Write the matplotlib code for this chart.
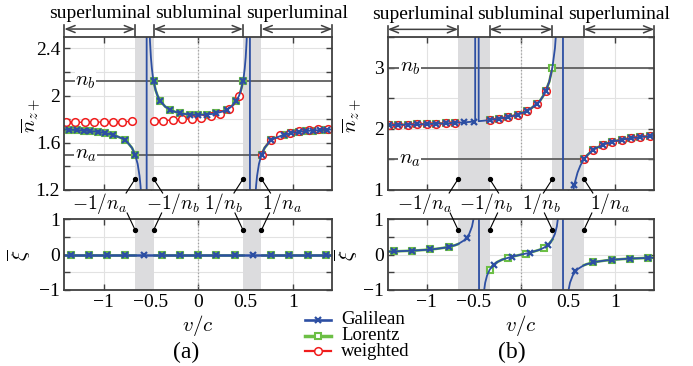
import numpy as np
import matplotlib
matplotlib.use("Agg")
import matplotlib.pyplot as plt
from matplotlib.lines import Line2D
from matplotlib.transforms import blended_transform_factory

# layer indices
na_a, nb_a = 1.5, 2.1213
na_b, nb_b = 1.5, 3.0

# ---- panel (a), top: Galilean curve (Lorentz = same outside shaded bands)
ga_v = [-1.414, -1.3, -1.2, -1.1, -1.0, -0.9, -0.8, -0.75, -0.7, -0.667,
        -0.64, -0.62, -0.61, -0.6, -0.59, -0.58, -0.5774, -0.545, -0.544, -0.54,
        -0.53, -0.52, -0.51, -0.5, -0.49, -0.48, -0.4714, -0.47, -0.45, -0.43,
        -0.4, -0.35, -0.3, -0.25, -0.2, -0.15, -0.1, -0.05, 0.0,
        0.05, 0.1, 0.15, 0.2, 0.25, 0.3, 0.35, 0.4, 0.43, 0.45,
        0.47, 0.4714, 0.48, 0.49, 0.5, 0.51, 0.52, 0.53, 0.54, 0.544,
        0.545, 0.5774, 0.58, 0.59, 0.6, 0.61, 0.62, 0.64, 0.667, 0.7,
        0.75, 0.8, 0.9, 1.0, 1.1, 1.2, 1.3, 1.414]
ga_n = [1.7131, 1.7089, 1.7038, 1.6966, 1.6859, 1.6685, 1.6361, 1.6070, 1.5577, 1.5000,
        1.4210, 1.3187, 1.2386, 1.1206, 0.9247, 0.4790, 0.0, 0.0, 17.65, 5.163,
        3.1964, 2.7001, 2.4637, 2.3238, 2.2310, 2.1648, 2.1213, 2.1151, 2.0456, 1.9994,
        1.9533, 1.9077, 1.8811, 1.8642, 1.8530, 1.8455, 1.8407, 1.8380, 1.8371,
        1.8380, 1.8407, 1.8455, 1.8530, 1.8642, 1.8811, 1.9077, 1.9533, 1.9994, 2.0456,
        2.1151, 2.1213, 2.1648, 2.2310, 2.3238, 2.4637, 2.7001, 3.1964, 5.163, 17.65,
        0.0, 0.0, 0.4790, 0.9247, 1.1206, 1.2386, 1.3187, 1.4210, 1.5000, 1.5577,
        1.6070, 1.6361, 1.6685, 1.6859, 1.6966, 1.7038, 1.7089, 1.7131]
gam_v = [-1.36, -1.28, -1.21, -1.14, -1.06, -0.98, -0.90, -0.77, -0.667,
         -0.4714, -0.40, -0.30, -0.19, -0.09, 0.0, 0.09, 0.19, 0.30, 0.40, 0.4714,
         0.667, 0.77, 0.90, 0.98, 1.06, 1.14, 1.21, 1.28, 1.36]
gam_n = [1.711, 1.708, 1.704, 1.700, 1.693, 1.683, 1.669, 1.620, 1.500,
         2.121, 1.953, 1.881, 1.851, 1.840, 1.837, 1.840, 1.851, 1.881, 1.953, 2.121,
         1.500, 1.620, 1.669, 1.683, 1.693, 1.700, 1.704, 1.708, 1.711]
# weighted (a)
wa_v = [-1.414, -1.0, -0.667, np.nan,
        -0.4714, -0.371, -0.271, -0.171, -0.071, 0.029, 0.129, 0.229, 0.329, 0.38, 0.429, 0.45, 0.4714, np.nan,
        0.667, 0.7, 0.72, 0.767, 0.867, 0.967, 1.067, 1.167, 1.267, 1.367, 1.414]
wa_n = [1.7724, 1.7763, 1.7815, np.nan,
        1.7861, 1.7892, 1.7931, 1.7980, 1.8045, 1.8136, 1.8268, 1.8482, 1.8890, 1.9282, 1.9953, 2.0451, 2.1212, np.nan,
        1.5002, 1.5582, 1.5821, 1.6202, 1.6638, 1.6864, 1.7002, 1.7095, 1.7162, 1.7212, 1.7233]
wam_v = [-1.4, -1.3, -1.2, -1.1, -1.0, -0.9, -0.8, -0.7,
         -0.471, -0.371, -0.271, -0.171, -0.071, 0.029, 0.129, 0.229, 0.329, 0.429,
         0.667, 0.767, 0.867, 0.967, 1.067, 1.167, 1.267, 1.367]
wam_n = [1.7725, 1.7733, 1.7742, 1.7752, 1.7763, 1.7776, 1.7792, 1.7809,
         1.7861, 1.7892, 1.7931, 1.7980, 1.8045, 1.8136, 1.8268, 1.8482, 1.8890, 1.9953,
         1.5002, 1.6202, 1.6638, 1.6864, 1.7002, 1.7095, 1.7162, 1.7212]
# panel (a), bottom: xi is zero everywhere
xa_v = [-1.414, 1.414]
xa_xi = [0.0, 0.0]
xam_v = [-1.346, -1.154, -0.962, -0.769, -0.577, -0.385, -0.192, 0.0,
         0.192, 0.385, 0.577, 0.769, 0.962, 1.154, 1.346]
xam_xi = [0.0] * 15

# ---- panel (b), top
gb_v = [-1.414, -1.3, -1.2, -1.1, -1.0, -0.9, -0.8, -0.7, -0.667, -0.6,
        -0.5, -0.486, -0.485, -0.45, -0.449, -0.4, -0.333, -0.3, -0.2, -0.1,
        0.0, 0.1, 0.2, 0.25, 0.3, 0.333, 0.36, 0.38, 0.4, 0.42,
        0.44, 0.45, 0.5, 0.52, 0.53, 0.55, 0.56, 0.57, 0.6, 0.63,
        0.667, 0.7, 0.75, 0.8, 0.9, 1.0, 1.1, 1.2, 1.3, 1.414]
gb_n = [2.0598, 2.0637, 2.0676, 2.0719, 2.0769, 2.0826, 2.0893, 2.0971, 2.1000, 2.1064,
        2.1176, 2.1194, 40.0, 40.0, 2.1244, 2.1316, 2.1429, 2.1493, 2.1724, 2.2041,
        2.2500, 2.3226, 2.4545, 2.5714, 2.7692, 3.0000, 3.3158, 3.7241, 4.5000, 6.5450,
        27.0, -18.0, 0.0, 0.5294, 0.7013, 0.9474, 1.0385, 1.1150, 1.2857, 1.4012,
        1.5000, 1.5652, 1.6364, 1.6875, 1.7561, 1.8000, 1.8305, 1.8529, 1.8701, 1.8854]
gbm_v = [-1.4, -1.3, -1.2, -1.1, -1.0, -0.9, -0.8, -0.7, -0.6, -0.5,
         -0.333, -0.233, -0.133, -0.033, 0.067, 0.167, 0.267, 0.565,
         0.667, 0.767, 0.867, 0.967, 1.067, 1.167, 1.267, 1.367]
gbm_n = [2.0602, 2.0637, 2.0676, 2.0719, 2.0769, 2.0826, 2.0893, 2.0971, 2.1064, 2.1176,
         2.1429, 2.1639, 2.1923, 2.2326, 2.2941, 2.4000, 2.6250, 1.0783,
         1.5000, 1.6552, 1.7368, 1.7872, 1.8214, 1.8462, 1.8649, 1.8795]
wbm_v = [-1.4, -1.3, -1.2, -1.1, -1.0, -0.9, -0.8, -0.7,
         -0.333, -0.233, -0.133, -0.033, 0.067, 0.167, 0.267,
         0.667, 0.767, 0.867, 0.967, 1.067, 1.167, 1.267, 1.367]
wbm_n = [2.0602, 2.0637, 2.0676, 2.0719, 2.0769, 2.0826, 2.0893, 2.0971,
         2.1429, 2.1639, 2.1923, 2.2326, 2.2941, 2.4000, 2.6250,
         1.5000, 1.6552, 1.7368, 1.7872, 1.8214, 1.8462, 1.8649, 1.8795]
lbm_v = wbm_v[:15] + [0.333] + wbm_v[15:]
lbm_n = wbm_n[:15] + [3.0] + wbm_n[15:]
# panel (b), bottom
xb_v = [-1.414, -1.3, -1.2, -1.1, -1.0, -0.9, -0.8, -0.7, -0.667, -0.6,
        -0.55, -0.52, -0.5, -0.48, -0.46, -0.45, -0.44, -0.43, -0.41, -0.4,
        -0.38, -0.36, -0.333, -0.3, -0.25, -0.2, -0.1, 0.0, 0.1, 0.2,
        0.25, 0.3, 0.333, 0.36, 0.38, 0.4, 0.41, 0.43, 0.44, 0.45,
        0.46, 0.48, 0.5, 0.52, 0.55, 0.6, 0.667, 0.7, 0.8, 0.9,
        1.0, 1.1, 1.2, 1.3, 1.414]
xb_xi = [0.0872, 0.0968, 0.1073, 0.1207, 0.1385, 0.1633, 0.2009, 0.2659, 0.3000, 0.4103,
         0.5822, 0.7929, 1.0588, 1.6226, 3.633, 10.07, -12.44, -3.782, -1.548, -1.184,
         -0.7947, -0.5888, -0.4286, -0.3100, -0.2057, -0.1411, -0.0592, 0.0, 0.0592, 0.1411,
         0.2057, 0.3100, 0.4286, 0.5888, 0.7947, 1.184, 1.548, 3.782, 12.44, -10.07,
         -3.633, -1.6226, -1.0588, -0.7929, -0.5822, -0.4103, -0.3000, -0.2659, -0.2009, -0.1633,
         -0.1385, -0.1207, -0.1073, -0.0968, -0.0872]
xbm_v = [-1.346, -1.154, -0.962, -0.769, -0.577, -0.288, -0.096,
         0.096, 0.288, 0.577, 0.769, 0.962, 1.154, 1.346]
xbm_xi = [0.0927, 0.1131, 0.1468, 0.2170, 0.4735, -0.2793, -0.0566,
          0.0566, 0.2793, -0.4735, -0.2170, -0.1468, -0.1131, -0.0927]
xblm_v = [-1.346, -1.154, -0.962, -0.769, -0.333, -0.14, 0.05, 0.24,
          0.769, 0.962, 1.154, 1.346]
xblm_xi = [0.0927, 0.1131, 0.1468, 0.2170, -0.4286, -0.0874, 0.0285, 0.1906,
           -0.2170, -0.1468, -0.1131, -0.0927]

BLUE = "#2d4fa3"
GREEN = "#6cbf45"
RED = "#f01c1c"
SHADE = "#dcdcde"
DARK = "#404040"

plt.rcParams.update({
    "font.family": ["Liberation Serif", "DejaVu Serif"],
    "mathtext.fontset": "cm",
    "font.size": 14,
    "axes.linewidth": 1.3,
    "axes.edgecolor": DARK,
})

W, H = 693, 366
fig = plt.figure(figsize=(W / 100, H / 100), dpi=100)


def px_axes(l, t, r, b):
    return fig.add_axes([l / W, 1 - b / H, (r - l) / W, (b - t) / H])


def style(ax, ylim, yticks, ylabels, xlabels):
    ax.set_xlim(-1.414, 1.414)
    ax.set_ylim(*ylim)
    ax.set_xticks([-1, -0.5, 0, 0.5, 1])
    ax.set_xticklabels(["\u22121", "\u22120.5", "0", "0.5", "1"] if xlabels else [])
    ax.set_yticks(yticks)
    ax.set_yticklabels(ylabels)
    ax.set_axisbelow(True)
    ax.grid(True, color="#e2e2e2", lw=0.8)
    ax.axvline(0, color="#a0a0a0", ls=":", lw=0.9, zorder=0.7)
    ax.tick_params(direction="in", top=True, right=True, length=4, width=1.0,
                   color=DARK, labelsize=14, pad=3)


def shade(ax, na, nb):
    ax.axvspan(-1 / na, -1 / nb, color=SHADE, lw=0, zorder=0.8)
    ax.axvspan(1 / nb, 1 / na, color=SHADE, lw=0, zorder=0.8)


def outside(v, y, na, nb):
    v = np.asarray(v, float)
    y = np.asarray(y, float)
    keep = (np.abs(v) <= 1 / nb + 1e-3) | (np.abs(v) >= 1 / na - 1e-3)
    return v, np.where(keep, y, np.nan)


def n_lines(ax, na, nb, xlab):
    for n, lab in [(na, "$n_a$"), (nb, "$n_b$")]:
        ax.axhline(n, color="#5e5e5e", lw=1.3, zorder=1)
        ax.text(xlab, n, lab, ha="center", va="center", fontsize=15, zorder=1.5,
                bbox=dict(fc="white", ec="none", pad=0.4))


def regions(ax, na, nb):
    tr = blended_transform_factory(ax.transData, ax.transAxes)
    spans = [(-1.414, -1 / na, "superluminal"), (-1 / nb, 1 / nb, "subluminal"),
             (1 / na, 1.414, "superluminal")]
    for x0, x1, lab in spans:
        ax.annotate("", xy=(x0, 1.05), xytext=(x1, 1.05), xycoords=tr, textcoords=tr,
                    arrowprops=dict(arrowstyle="<->,head_length=0.45,head_width=0.18",
                                    color=DARK, lw=1.1, shrinkA=0, shrinkB=0))
        for x in (x0, x1):
            ax.plot([x, x], [1.0, 1.075], transform=tr, color=DARK, lw=1.2, clip_on=False)
        ax.text((x0 + x1) / 2, 1.15, lab, transform=tr, ha="center", va="center", fontsize=14)


def bound_marks(ax, na, nb, offsets):
    xs = [-1 / na, -1 / nb, 1 / nb, 1 / na]
    labs = ["$-1/n_a$", "$-1/n_b$", "$1/n_b$", "$1/n_a$"]
    dirs = [-1, 1, -1, 1]
    top, bot = H - 179, H - 230
    for x, lab, d, off in zip(xs, labs, dirs, offsets):
        xp = ax.transData.transform((x, 0))[0]
        for y0, y1, dx in [(top, top - 14, 9), (bot, bot + 17, 8)]:
            fig.add_artist(Line2D([xp / W, (xp + d * dx) / W], [y0 / H, y1 / H],
                                  transform=fig.transFigure, color="k", lw=0.8))
            fig.add_artist(Line2D([xp / W], [y0 / H], transform=fig.transFigure,
                                  color="k", marker="o", ms=2.8, ls="none"))
        fig.text((xp + off) / W, 1 - 204 / H, lab, ha="center", va="center", fontsize=14)


blue = dict(color=BLUE, lw=1.3, zorder=2.4)
blue_m = dict(color=BLUE, ls="none", marker="x", ms=5, mew=1.6, zorder=2.5)
green = dict(color=GREEN, lw=1.9, zorder=2.0)
green_m = dict(color=GREEN, ls="none", marker="s", ms=5, mew=1.5, mfc="white", zorder=2.1)
red = dict(color=RED, lw=1.0, zorder=2.2)
red_m = dict(color=RED, ls="none", marker="o", ms=5.5, mew=1.1, mfc="white", zorder=2.3)

axa_t = px_axes(64.3, 36.7, 332.3, 190)
axa_b = px_axes(64.3, 219.3, 332.3, 290)
axb_t = px_axes(387.7, 37, 654.3, 190)
axb_b = px_axes(387.7, 219.3, 654.3, 290)

# (a) top
style(axa_t, (1.2, 2.5), [1.2, 1.4, 1.6, 1.8, 2.0, 2.2, 2.4],
      ["1.2", "", "1.6", "", "2", "", "2.4"], False)
shade(axa_t, na_a, nb_a)
n_lines(axa_t, na_a, nb_a, -1.19)
axa_t.plot(*outside(ga_v, ga_n, na_a, nb_a), **green)
axa_t.plot(*outside(gam_v, gam_n, na_a, nb_a), **green_m)
axa_t.plot(wa_v, wa_n, **red)
axa_t.plot(wam_v, wam_n, **red_m)
axa_t.plot(ga_v, ga_n, **blue)
axa_t.plot(gam_v, gam_n, **blue_m)
regions(axa_t, na_a, nb_a)

# (a) bottom
style(axa_b, (-1, 1), [-1, -0.5, 0, 0.5, 1], ["\u22121", "", "0", "", "1"], True)
shade(axa_b, na_a, nb_a)
axa_b.plot(*outside([-1.414, -0.667, -0.66, -0.48, -0.4714, 0.4714, 0.48, 0.66, 0.667, 1.414],
                    [0.0] * 10, na_a, nb_a), **green)
axa_b.plot(*outside(xam_v, xam_xi, na_a, nb_a), **green_m)
axa_b.plot(xa_v, xa_xi, color=BLUE, lw=1.8, zorder=2.4)
axa_b.plot(xam_v, xam_xi, **blue_m)

# (b) top
style(axb_t, (1, 3.5), [1, 1.5, 2, 2.5, 3, 3.5], ["1", "", "2", "", "3", ""], False)
shade(axb_t, na_b, nb_b)
n_lines(axb_t, na_b, nb_b, -1.18)
axb_t.plot(*outside(gb_v, gb_n, na_b, nb_b), **green)
axb_t.plot(lbm_v, lbm_n, **green_m)
axb_t.plot(*outside(gb_v, gb_n, na_b, nb_b), **red)
axb_t.plot(wbm_v, wbm_n, **red_m)
axb_t.plot(gb_v, gb_n, **blue)
axb_t.plot(gbm_v, gbm_n, **blue_m)
regions(axb_t, na_b, nb_b)

# (b) bottom
style(axb_b, (-1, 1), [-1, -0.5, 0, 0.5, 1], ["\u22121", "", "0", "", "1"], True)
shade(axb_b, na_b, nb_b)
axb_b.plot(*outside(xb_v, xb_xi, na_b, nb_b), **green)
axb_b.plot(xblm_v, xblm_xi, **green_m)
axb_b.plot(xb_v, xb_xi, **blue)
axb_b.plot(xbm_v, xbm_xi, **blue_m)

bound_marks(axa_t, na_a, nb_a, [-36, 19, -20, 20])
bound_marks(axb_t, na_b, nb_b, [-34, -4, -11, 26])

# axis labels
for x in (31, 352):
    fig.text(x / W, 1 - 115 / H, r"$\overline{n}_{z+}$", rotation=90,
             ha="center", va="center", fontsize=15)
for x in (19, 346):
    fig.text(x / W, 1 - 255 / H, r"$\overline{\xi}$", rotation=90,
             ha="center", va="center", fontsize=15)
for x in (198, 521):
    fig.text(x / W, 1 - 325 / H, "$v/c$", ha="center", va="center", fontsize=15)
fig.text(186 / W, 1 - 352 / H, "(a)", ha="center", va="center", fontsize=17)
fig.text(512 / W, 1 - 352 / H, "(b)", ha="center", va="center", fontsize=17)

# legend
rows = [("Galilean", blue, blue_m), ("Lorentz", green, green_m), ("weighted", red, red_m)]
for i, (lab, ls, ms) in enumerate(rows):
    y = 1 - (320 + 15.5 * i) / H
    fig.add_artist(Line2D([305 / W, 331 / W], [y, y], transform=fig.transFigure,
                          color=ls["color"], lw=ls["lw"] + 0.6))
    mk = {k: v for k, v in ms.items() if k not in ("ls", "zorder")}
    fig.add_artist(Line2D([318 / W], [y], transform=fig.transFigure, ls="none", **mk))
    fig.text(341 / W, y, lab, ha="left", va="center", fontsize=13.5)

fig.savefig("out.png", dpi=100)
